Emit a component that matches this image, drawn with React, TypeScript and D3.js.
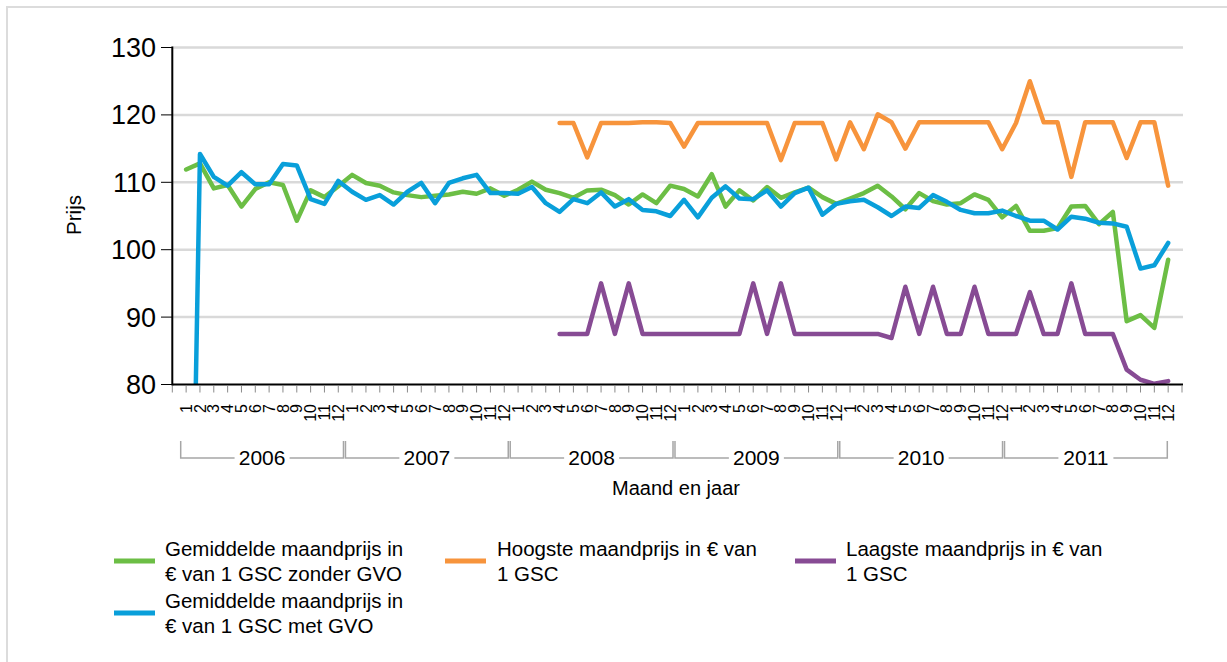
import React, { useEffect, useRef } from 'react';
import * as d3 from 'd3';

// ---- data (monthly, 2006-2011) ----
const years = ['2006', '2007', '2008', '2009', '2010', '2011'];
const monthLabels = ['1', '2', '3', '4', '5', '6', '7', '8', '9', '10', '11', '12'];
const yTicks = [80, 90, 100, 110, 120, 130];

// Gemiddelde maandprijs zonder GVO
const zonderGvo = [
  111.9, 112.8, 109.1, 109.6, 106.4, 109.0, 110.0, 109.6, 104.3, 108.8, 107.8, 109.4,
  111.1, 109.9, 109.5, 108.5, 108.1, 107.8, 108.0, 108.2, 108.6, 108.3, 109.1, 108.0,
  108.9, 110.1, 108.9, 108.4, 107.7, 108.8, 108.9, 108.1, 106.7, 108.2, 106.9, 109.5,
  109.0, 107.9, 111.2, 106.4, 108.8, 107.3, 109.3, 107.7, 108.5, 109.2, 107.8, 106.8,
  107.6, 108.4, 109.5, 107.9, 106.0, 108.4, 107.2, 106.7, 106.9, 108.2, 107.4, 104.8,
  106.5, 102.8, 102.8, 103.2, 106.4, 106.5, 103.8, 105.6, 89.4, 90.3, 88.4, 98.5,
];

// Gemiddelde maandprijs met GVO
const metGvo = [
  0, 114.2, 110.8, 109.5, 111.5, 109.7, 109.7, 112.7, 112.5, 107.5, 106.8, 110.2,
  108.6, 107.4, 108.1, 106.7, 108.6, 109.9, 106.9, 109.9, 110.6, 111.1, 108.4, 108.4,
  108.3, 109.3, 106.9, 105.6, 107.5, 106.9, 108.5, 106.4, 107.5, 105.9, 105.7, 105.0,
  107.4, 104.8, 107.7, 109.4, 107.6, 107.5, 108.8, 106.4, 108.4, 109.2, 105.2, 106.8,
  107.2, 107.4, 106.3, 105.0, 106.4, 106.2, 108.1, 107.1, 105.9, 105.4, 105.4, 105.8,
  105.0, 104.3, 104.3, 103.0, 104.9, 104.6, 104.0, 103.9, 103.4, 97.2, 97.7, 101.0,
];

// Hoogste maandprijs
const hoogste = [
  null, null, null, null, null, null, null, null, null, null, null, null,
  null, null, null, null, null, null, null, null, null, null, null, null,
  null, null, null, 118.8, 118.8, 113.7, 118.8, 118.8, 118.8, 118.9, 118.9, 118.8,
  115.3, 118.8, 118.8, 118.8, 118.8, 118.8, 118.8, 113.3, 118.8, 118.8, 118.8, 113.4,
  118.9, 114.9, 120.1, 118.9, 115.0, 118.9, 118.9, 118.9, 118.9, 118.9, 118.9, 114.9,
  118.8, 125.0, 118.9, 118.9, 110.8, 118.9, 118.9, 118.9, 113.6, 118.9, 118.9, 109.5,
];

// Laagste maandprijs
const laagste = [
  null, null, null, null, null, null, null, null, null, null, null, null,
  null, null, null, null, null, null, null, null, null, null, null, null,
  null, null, null, 87.5, 87.5, 87.5, 95.0, 87.5, 95.0, 87.5, 87.5, 87.5,
  87.5, 87.5, 87.5, 87.5, 87.5, 95.0, 87.5, 95.0, 87.5, 87.5, 87.5, 87.5,
  87.5, 87.5, 87.5, 86.9, 94.5, 87.5, 94.5, 87.5, 87.5, 94.5, 87.5, 87.5,
  87.5, 93.7, 87.5, 87.5, 95.0, 87.5, 87.5, 87.5, 82.2, 80.7, 80.1, 80.5,
];

const seriesColors = ['#6cbe45', '#f7943c', '#874b94', '#099fda'];
const seriesValues = [zonderGvo, hoogste, laagste, metGvo];
const legendLines = [
  ['Gemiddelde maandprijs in', '\u20ac van 1 GSC zonder GVO'],
  ['Hoogste maandprijs in \u20ac van', '1 GSC'],
  ['Laagste maandprijs in \u20ac van', '1 GSC'],
  ['Gemiddelde maandprijs in', '\u20ac van 1 GSC met GVO'],
];

const FONT = '"Liberation Sans", Arial, sans-serif';

export default function App() {
  const ref = useRef<SVGSVGElement>(null);

  useEffect(() => {
    const svg = d3.select(ref.current);
    svg.selectAll('*').remove();

    const nMonths = years.length * monthLabels.length;
    const x = d3.scaleLinear().domain([0, nMonths + 1]).range([172.3, 1182]);
    const y = d3.scaleLinear().domain([80, 130]).range([384.5, 47.5]);
    const left = 172.3, right = 1183;

    // outer frame
    svg.append('path')
      .attr('d', 'M7,662V7H1227')
      .attr('fill', 'none')
      .attr('stroke', '#dcdcdc')
      .attr('stroke-width', 2);

    // gridlines
    svg.append('g').selectAll('line')
      .data(yTicks.filter(t => t > 80))
      .join('line')
      .attr('x1', left).attr('x2', right)
      .attr('y1', d => y(d)).attr('y2', d => y(d))
      .attr('stroke', '#d9d9d9')
      .attr('stroke-width', 2.5);

    // lines
    svg.append('clipPath').attr('id', 'plotclip')
      .append('rect')
      .attr('x', left).attr('y', 0)
      .attr('width', right - left).attr('height', y(80));

    const line = d3.line<number | null>()
      .defined(d => d != null)
      .x((d, i) => x(i + 1))
      .y(d => y(d as number));

    const lines = svg.append('g').attr('clip-path', 'url(#plotclip)');
    seriesValues.forEach((vals, s) => {
      lines.append('path')
        .datum(vals)
        .attr('fill', 'none')
        .attr('stroke', seriesColors[s])
        .attr('stroke-width', 4.5)
        .attr('stroke-linejoin', 'round')
        .attr('stroke-linecap', 'round')
        .attr('d', line);
    });

    // y axis
    svg.append('line')
      .attr('x1', left).attr('x2', left)
      .attr('y1', y(130) - 1).attr('y2', y(80) + 1)
      .attr('stroke', '#000').attr('stroke-width', 2);

    const yg = svg.append('g');
    yg.selectAll('line')
      .data(yTicks)
      .join('line')
      .attr('x1', 161).attr('x2', left)
      .attr('y1', d => y(d)).attr('y2', d => y(d))
      .attr('stroke', '#000').attr('stroke-width', 1);
    yg.selectAll('text')
      .data(yTicks)
      .join('text')
      .attr('x', 156)
      .attr('y', d => y(d))
      .attr('dy', '0.35em')
      .attr('text-anchor', 'end')
      .attr('font-family', FONT)
      .attr('font-size', 27)
      .attr('fill', '#000')
      .text(d => d);

    svg.append('text')
      .attr('transform', 'translate(81,215) rotate(-90)')
      .attr('text-anchor', 'middle')
      .attr('font-family', FONT)
      .attr('font-size', 20.5)
      .attr('fill', '#000')
      .text('Prijs');

    // x axis
    svg.append('line')
      .attr('x1', left).attr('x2', right)
      .attr('y1', y(80)).attr('y2', y(80))
      .attr('stroke', '#000').attr('stroke-width', 2);

    svg.append('g').selectAll('line')
      .data(d3.range(0, nMonths + 2))
      .join('line')
      .attr('x1', d => x(d)).attr('x2', d => x(d))
      .attr('y1', y(80) + 1.5).attr('y2', y(80) + 8)
      .attr('stroke', '#8a8a8a').attr('stroke-width', 1);

    const months = d3.range(nMonths).map(i => monthLabels[i % 12]);
    svg.append('g').selectAll('text')
      .data(months)
      .join('text')
      .attr('transform', (d, i) => `translate(${x(i + 1)},404) rotate(-90)`)
      .attr('dy', '0.35em')
      .attr('text-anchor', 'end')
      .attr('font-family', FONT)
      .attr('font-size', 16)
      .attr('fill', '#000')
      .text(d => d);

    // year brackets
    const yb = d3.scaleBand<string>().domain(years).range([180.7, 1167.3]).paddingInner(0.012);
    const brackets = svg.append('g');
    years.forEach(yr => {
      const x0 = yb(yr) as number;
      const x1 = x0 + yb.bandwidth();
      const cx = (x0 + x1) / 2;
      brackets.append('path')
        .attr('d', `M${x0},441V458H${cx - 27.5}M${cx + 27.5},458H${x1}V441`)
        .attr('fill', 'none')
        .attr('stroke', '#a6a6a6')
        .attr('stroke-width', 1.5);
      brackets.append('text')
        .attr('x', cx).attr('y', 458)
        .attr('dy', '0.35em')
        .attr('text-anchor', 'middle')
        .attr('font-family', FONT)
        .attr('font-size', 21)
        .attr('fill', '#000')
        .text(yr);
    });

    svg.append('text')
      .attr('x', 676).attr('y', 488)
      .attr('dy', '0.35em')
      .attr('text-anchor', 'middle')
      .attr('font-family', FONT)
      .attr('font-size', 20)
      .attr('fill', '#000')
      .text('Maand en jaar');

    // legend
    const legendPos = [
      { sx: 114, tx: 165, cy: 561 },
      { sx: 445, tx: 497, cy: 561 },
      { sx: 795, tx: 846, cy: 561 },
      { sx: 114, tx: 165, cy: 613 },
    ];
    const lg = svg.append('g');
    legendLines.forEach((txt, s) => {
      const p = legendPos[s];
      lg.append('line')
        .attr('x1', p.sx).attr('x2', p.sx + 41)
        .attr('y1', p.cy).attr('y2', p.cy)
        .attr('stroke', seriesColors[s])
        .attr('stroke-width', 5);
      txt.forEach((t, k) => {
        lg.append('text')
          .attr('x', p.tx)
          .attr('y', p.cy - 12.5 + k * 25)
          .attr('dy', '0.35em')
          .attr('font-family', FONT)
          .attr('font-size', 20.5)
          .attr('fill', '#000')
          .text(t);
      });
    });
  }, []);

  return (
    <svg
      ref={ref}
      width={1227}
      height={662}
      style={{ position: 'absolute', left: 0, top: 0, background: '#fff' }}
    />
  );
}
